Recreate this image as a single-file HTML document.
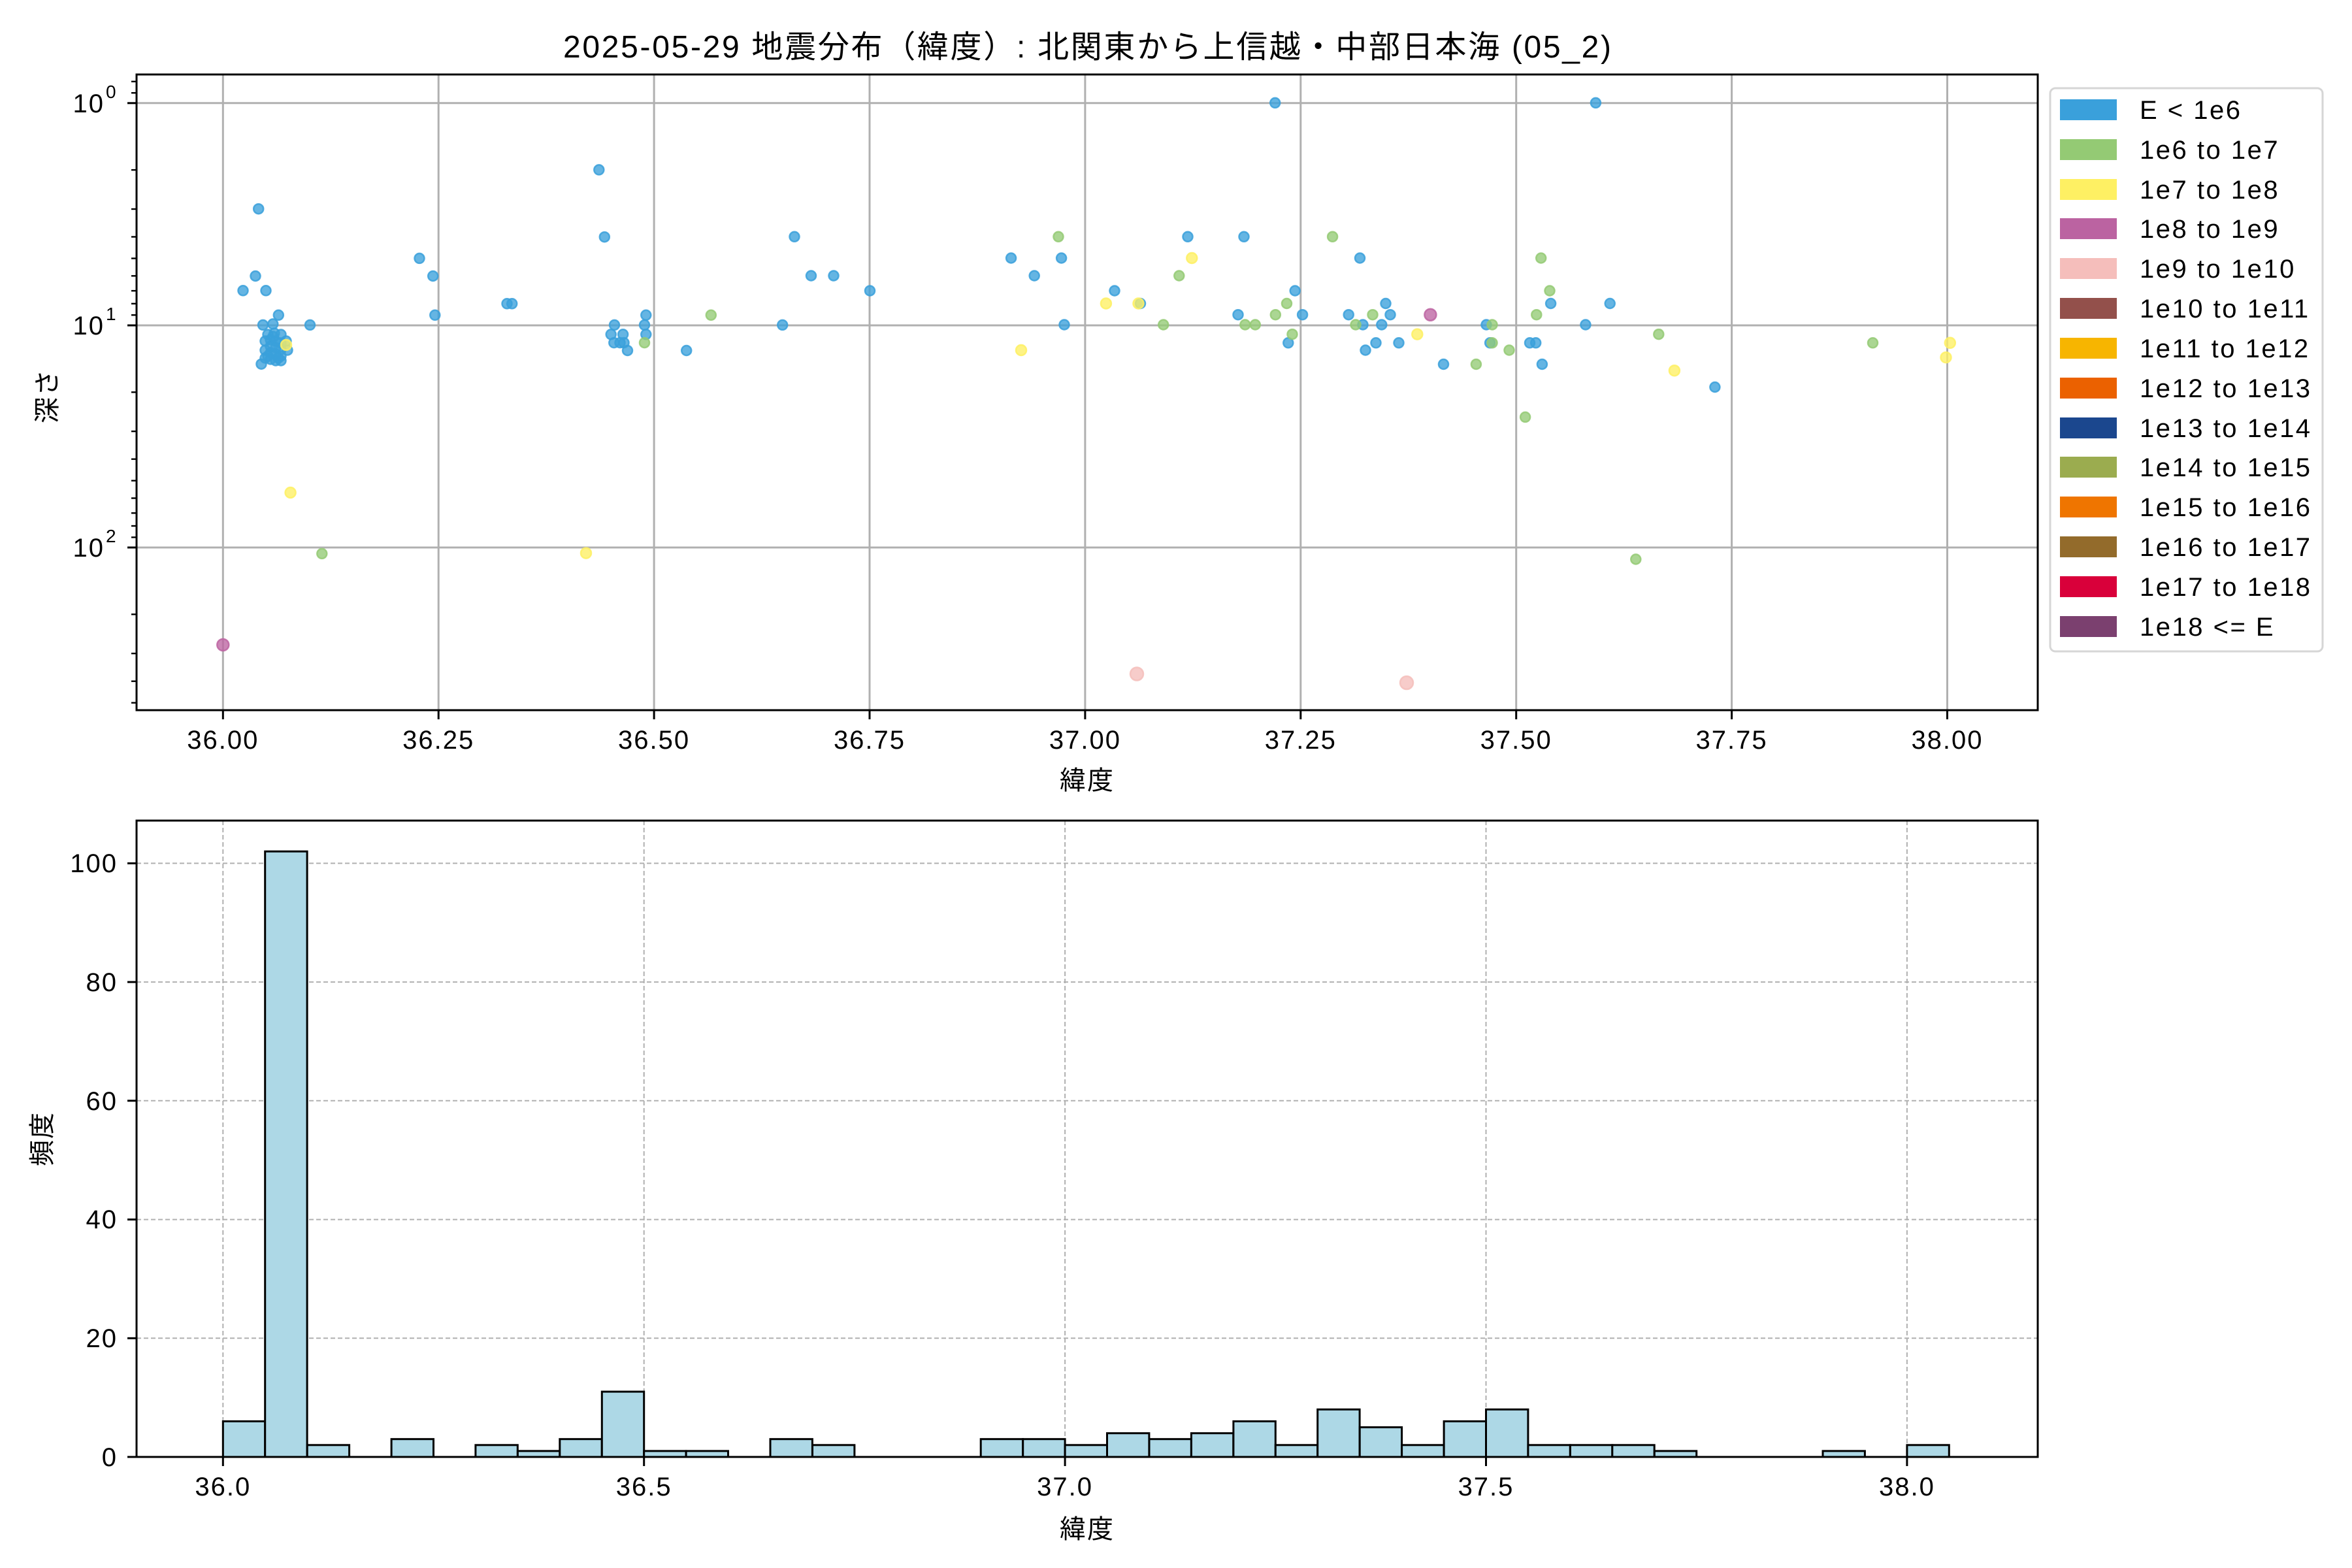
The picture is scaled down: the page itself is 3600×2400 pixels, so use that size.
<!DOCTYPE html>
<html><head><meta charset="utf-8"><style>
html,body{margin:0;padding:0;background:#fff;}
svg{display:block;}
text{font-family:"Liberation Sans","Noto Sans CJK JP",sans-serif;fill:#000;}
.tk{letter-spacing:2px;}
.lg{letter-spacing:2.5px;}
</style></head><body>
<svg width="3600" height="2400" viewBox="0 0 3600 2400" xmlns="http://www.w3.org/2000/svg">
<rect width="3600" height="2400" fill="#fff"/>
<text x="862" y="88" font-size="48" textLength="1604" lengthAdjust="spacing">2025-05-29 地震分布（緯度）: 北関東から上信越・中部日本海 (05_2)</text>

<!-- TOP AXES -->
<g stroke="#b0b0b0" stroke-width="3">
<line x1="341.3" y1="114" x2="341.3" y2="1087"/>
<line x1="671.2" y1="114" x2="671.2" y2="1087"/>
<line x1="1001.1" y1="114" x2="1001.1" y2="1087"/>
<line x1="1331" y1="114" x2="1331" y2="1087"/>
<line x1="1660.9" y1="114" x2="1660.9" y2="1087"/>
<line x1="1990.8" y1="114" x2="1990.8" y2="1087"/>
<line x1="2320.7" y1="114" x2="2320.7" y2="1087"/>
<line x1="2650.6" y1="114" x2="2650.6" y2="1087"/>
<line x1="2980.5" y1="114" x2="2980.5" y2="1087"/>
<line x1="209" y1="157.8" x2="3119" y2="157.8"/>
<line x1="209" y1="498" x2="3119" y2="498"/>
<line x1="209" y1="838" x2="3119" y2="838"/>
</g>

<g stroke-width="2.5" stroke-opacity="0.85" fill-opacity="0.78">
<g fill="#3aa0db" stroke="#3aa0db">
<circle cx="395.7" cy="319.7" r="7.5"/><circle cx="391" cy="422.5" r="7.5"/>
<circle cx="372" cy="444.8" r="7.5"/><circle cx="407" cy="444.8" r="7.5"/>
<circle cx="426.3" cy="482.3" r="7.5"/><circle cx="402.5" cy="497.4" r="7.5"/>
<circle cx="417.8" cy="495.9" r="7.5"/><circle cx="474.5" cy="497.4" r="7.5"/>
<circle cx="400" cy="557.2" r="7.5"/>
<circle cx="410" cy="512" r="7.5"/><circle cx="420" cy="510" r="7.5"/><circle cx="430" cy="512" r="7.5"/>
<circle cx="438" cy="522" r="7.5"/><circle cx="440" cy="536" r="7.5"/>
<circle cx="406" cy="522" r="7.5"/><circle cx="406" cy="536" r="7.5"/><circle cx="406" cy="548" r="7.5"/>
<circle cx="414" cy="520" r="7.5"/><circle cx="414" cy="530" r="7.5"/><circle cx="414" cy="540" r="7.5"/><circle cx="414" cy="550" r="7.5"/>
<circle cx="422" cy="522" r="7.5"/><circle cx="422" cy="532" r="7.5"/><circle cx="422" cy="542" r="7.5"/><circle cx="422" cy="552" r="7.5"/>
<circle cx="430" cy="525" r="7.5"/><circle cx="430" cy="535" r="7.5"/><circle cx="430" cy="545" r="7.5"/><circle cx="430" cy="552" r="7.5"/>
<circle cx="418" cy="515" r="7.5"/><circle cx="426" cy="548" r="7.5"/><circle cx="410" cy="545" r="7.5"/>
<circle cx="642" cy="395.4" r="7.5"/><circle cx="662.7" cy="422.5" r="7.5"/><circle cx="665.8" cy="482.3" r="7.5"/>
<circle cx="776" cy="464.8" r="7.5"/><circle cx="783.7" cy="464.8" r="7.5"/>
<circle cx="916.8" cy="259.9" r="7.5"/><circle cx="925.3" cy="362.7" r="7.5"/>
<circle cx="940.5" cy="497.4" r="7.5"/><circle cx="935.2" cy="511.8" r="7.5"/><circle cx="953.6" cy="511.8" r="7.5"/>
<circle cx="939.8" cy="524.6" r="7.5"/><circle cx="949" cy="524.6" r="7.5"/><circle cx="955" cy="524.6" r="7.5"/>
<circle cx="960.5" cy="536.5" r="7.5"/><circle cx="988.8" cy="482.3" r="7.5"/><circle cx="986.5" cy="497.4" r="7.5"/>
<circle cx="988.8" cy="511.8" r="7.5"/><circle cx="1050.7" cy="536.5" r="7.5"/><circle cx="1197.7" cy="497.4" r="7.5"/>
<circle cx="1216" cy="362.3" r="7.5"/><circle cx="1241.5" cy="422" r="7.5"/><circle cx="1276" cy="422" r="7.5"/>
<circle cx="1331.5" cy="445" r="7.5"/>
<circle cx="1951.7" cy="157.4" r="7.5"/><circle cx="1547.6" cy="395" r="7.5"/><circle cx="1624.6" cy="395" r="7.5"/>
<circle cx="1583.2" cy="422" r="7.5"/><circle cx="1706" cy="445" r="7.5"/><circle cx="1745.5" cy="464.5" r="7.5"/>
<circle cx="1629" cy="497" r="7.5"/><circle cx="1818" cy="362.3" r="7.5"/><circle cx="1904" cy="362.3" r="7.5"/>
<circle cx="1895" cy="481.7" r="7.5"/><circle cx="1982.2" cy="445" r="7.5"/><circle cx="1993.6" cy="481.7" r="7.5"/>
<circle cx="1971.8" cy="524.8" r="7.5"/><circle cx="2081.5" cy="395" r="7.5"/><circle cx="2064.2" cy="481.7" r="7.5"/>
<circle cx="2086" cy="497" r="7.5"/><circle cx="2121" cy="464.5" r="7.5"/><circle cx="2128" cy="481.7" r="7.5"/>
<circle cx="2114.8" cy="497" r="7.5"/><circle cx="2090" cy="536" r="7.5"/><circle cx="2106" cy="524.8" r="7.5"/>
<circle cx="2141" cy="524.8" r="7.5"/><circle cx="2209.5" cy="557.5" r="7.5"/><circle cx="2275" cy="497" r="7.5"/>
<circle cx="2280.6" cy="524.8" r="7.5"/><circle cx="2341.5" cy="524.8" r="7.5"/><circle cx="2350.7" cy="524.8" r="7.5"/>
<circle cx="2360.4" cy="557.5" r="7.5"/><circle cx="2373.6" cy="464.5" r="7.5"/>
<circle cx="2442.4" cy="157.4" r="7.5"/><circle cx="2464.2" cy="464.5" r="7.5"/><circle cx="2426.9" cy="497" r="7.5"/>
<circle cx="2624.9" cy="592.5" r="7.5"/>
</g>
<g fill="#94ca74" stroke="#94ca74">
<circle cx="492.8" cy="847.4" r="7.5"/><circle cx="986.5" cy="524.6" r="7.5"/><circle cx="1088.3" cy="482.3" r="7.5"/>
<circle cx="1620" cy="362.3" r="7.5"/><circle cx="1780.7" cy="497" r="7.5"/><circle cx="1804.8" cy="422" r="7.5"/>
<circle cx="1905.8" cy="497" r="7.5"/><circle cx="1921.3" cy="497" r="7.5"/><circle cx="1952.3" cy="481.7" r="7.5"/>
<circle cx="1969.5" cy="464.5" r="7.5"/><circle cx="1978" cy="511.6" r="7.5"/><circle cx="2039.6" cy="362.3" r="7.5"/>
<circle cx="2075" cy="497" r="7.5"/><circle cx="2101" cy="481.7" r="7.5"/><circle cx="2259.4" cy="557.5" r="7.5"/>
<circle cx="2284" cy="497" r="7.5"/><circle cx="2284" cy="524.8" r="7.5"/><circle cx="2310" cy="536" r="7.5"/>
<circle cx="2334.6" cy="638.4" r="7.5"/><circle cx="2351.8" cy="481.7" r="7.5"/><circle cx="2358.7" cy="395" r="7.5"/>
<circle cx="2372" cy="445" r="7.5"/><circle cx="2538.8" cy="511.6" r="7.5"/><circle cx="2503.8" cy="856" r="7.5"/>
<circle cx="2866.5" cy="524.8" r="7.5"/>
</g>
<g fill="#fef063" stroke="#fef063">
<circle cx="444.6" cy="754" r="8"/><circle cx="897" cy="846.6" r="8"/><circle cx="438" cy="528" r="8"/>
<circle cx="1692.9" cy="464.5" r="8"/><circle cx="1742.5" cy="464.5" r="8"/><circle cx="1563" cy="536" r="8"/>
<circle cx="1824.3" cy="395" r="8"/><circle cx="2169.3" cy="511.6" r="8"/><circle cx="2562.9" cy="567.2" r="8"/>
<circle cx="2984.8" cy="524.8" r="8"/><circle cx="2978.5" cy="547.1" r="8"/>
</g>
<g fill="#bd64a2" stroke="#bd64a2">
<circle cx="341.3" cy="987" r="9"/><circle cx="2189.4" cy="481.7" r="9"/>
</g>
<g fill="#f5bebb" stroke="#f5bebb">
<circle cx="1740" cy="1031.5" r="10"/><circle cx="2153" cy="1045" r="10"/>
</g>
</g>

<rect x="209" y="114" width="2910" height="973" fill="none" stroke="#000" stroke-width="3"/>
<g stroke="#000" stroke-width="3">
<line x1="341.3" y1="1087" x2="341.3" y2="1101"/><line x1="671.2" y1="1087" x2="671.2" y2="1101"/>
<line x1="1001.1" y1="1087" x2="1001.1" y2="1101"/><line x1="1331" y1="1087" x2="1331" y2="1101"/>
<line x1="1660.9" y1="1087" x2="1660.9" y2="1101"/><line x1="1990.8" y1="1087" x2="1990.8" y2="1101"/>
<line x1="2320.7" y1="1087" x2="2320.7" y2="1101"/><line x1="2650.6" y1="1087" x2="2650.6" y2="1101"/>
<line x1="2980.5" y1="1087" x2="2980.5" y2="1101"/>
<line x1="195" y1="157.8" x2="209" y2="157.8"/><line x1="195" y1="498" x2="209" y2="498"/><line x1="195" y1="838" x2="209" y2="838"/>
</g>
<g stroke="#000" stroke-width="2.4">
<line x1="201" y1="124.8" x2="209" y2="124.8"/><line x1="201" y1="142.2" x2="209" y2="142.2"/>
<line x1="201" y1="260.1" x2="209" y2="260.1"/><line x1="201" y1="320" x2="209" y2="320"/><line x1="201" y1="362.5" x2="209" y2="362.5"/>
<line x1="201" y1="395.5" x2="209" y2="395.5"/><line x1="201" y1="422.3" x2="209" y2="422.3"/><line x1="201" y1="445.1" x2="209" y2="445.1"/>
<line x1="201" y1="464.8" x2="209" y2="464.8"/><line x1="201" y1="482.2" x2="209" y2="482.2"/>
<line x1="201" y1="600.3" x2="209" y2="600.3"/><line x1="201" y1="660.2" x2="209" y2="660.2"/><line x1="201" y1="702.7" x2="209" y2="702.7"/>
<line x1="201" y1="735.7" x2="209" y2="735.7"/><line x1="201" y1="762.5" x2="209" y2="762.5"/><line x1="201" y1="785.3" x2="209" y2="785.3"/>
<line x1="201" y1="805" x2="209" y2="805"/><line x1="201" y1="822.4" x2="209" y2="822.4"/>
<line x1="201" y1="940.3" x2="209" y2="940.3"/><line x1="201" y1="1000.2" x2="209" y2="1000.2"/><line x1="201" y1="1042.7" x2="209" y2="1042.7"/>
<line x1="201" y1="1075.7" x2="209" y2="1075.7"/>
</g>
<g font-size="40" text-anchor="middle" class="tk">
<text x="341.3" y="1146">36.00</text><text x="671.2" y="1146">36.25</text><text x="1001.1" y="1146">36.50</text>
<text x="1331" y="1146">36.75</text><text x="1660.9" y="1146">37.00</text><text x="1990.8" y="1146">37.25</text>
<text x="2320.7" y="1146">37.50</text><text x="2650.6" y="1146">37.75</text><text x="2980.5" y="1146">38.00</text>
</g>
<g font-size="40" text-anchor="end" class="tk">
<text x="160" y="172">10</text><text x="160" y="512">10</text><text x="160" y="852">10</text>
</g>
<g font-size="28">
<text x="162" y="150">0</text><text x="162" y="490">1</text><text x="162" y="830">2</text>
</g>
<text x="1664" y="1208" font-size="40" text-anchor="middle" letter-spacing="2">緯度</text>
<text transform="translate(86,606) rotate(-90)" font-size="40" text-anchor="middle" letter-spacing="2">深さ</text>

<!-- LEGEND -->
<rect x="3138" y="135" width="417" height="862" rx="8" fill="#fff" stroke="#d6d6d6" stroke-width="3"/>
<g>
<rect x="3153" y="152" width="87" height="32" fill="#3aa0db"/>
<rect x="3153" y="213" width="87" height="32" fill="#94ca74"/>
<rect x="3153" y="274" width="87" height="32" fill="#fef063"/>
<rect x="3153" y="334" width="87" height="32" fill="#bb63a1"/>
<rect x="3153" y="395" width="87" height="32" fill="#f5bebb"/>
<rect x="3153" y="456" width="87" height="32" fill="#93504b"/>
<rect x="3153" y="517" width="87" height="32" fill="#f7b500"/>
<rect x="3153" y="578" width="87" height="32" fill="#eb6100"/>
<rect x="3153" y="639" width="87" height="32" fill="#1b478e"/>
<rect x="3153" y="699" width="87" height="32" fill="#9bac4f"/>
<rect x="3153" y="760" width="87" height="32" fill="#ef7500"/>
<rect x="3153" y="821" width="87" height="32" fill="#936b2b"/>
<rect x="3153" y="882" width="87" height="32" fill="#d9003a"/>
<rect x="3153" y="943" width="87" height="32" fill="#7b406f"/>
</g>
<g font-size="40" class="lg">
<text x="3275" y="182">E &lt; 1e6</text><text x="3275" y="243">1e6 to 1e7</text><text x="3275" y="304">1e7 to 1e8</text>
<text x="3275" y="364">1e8 to 1e9</text><text x="3275" y="425">1e9 to 1e10</text><text x="3275" y="486">1e10 to 1e11</text>
<text x="3275" y="547">1e11 to 1e12</text><text x="3275" y="608">1e12 to 1e13</text><text x="3275" y="669">1e13 to 1e14</text>
<text x="3275" y="729">1e14 to 1e15</text><text x="3275" y="790">1e15 to 1e16</text><text x="3275" y="851">1e16 to 1e17</text>
<text x="3275" y="912">1e17 to 1e18</text><text x="3275" y="973">1e18 &lt;= E</text>
</g>

<!-- BOTTOM AXES -->
<g stroke="#b0b0b0" stroke-width="2" stroke-dasharray="7,4">
<line x1="341.3" y1="1256" x2="341.3" y2="2230"/><line x1="985.7" y1="1256" x2="985.7" y2="2230"/>
<line x1="1630.1" y1="1256" x2="1630.1" y2="2230"/><line x1="2274.5" y1="1256" x2="2274.5" y2="2230"/>
<line x1="2918.9" y1="1256" x2="2918.9" y2="2230"/>
<line x1="209" y1="2230" x2="3119" y2="2230"/><line x1="209" y1="2048.3" x2="3119" y2="2048.3"/>
<line x1="209" y1="1866.6" x2="3119" y2="1866.6"/><line x1="209" y1="1684.8" x2="3119" y2="1684.8"/>
<line x1="209" y1="1503.1" x2="3119" y2="1503.1"/><line x1="209" y1="1321.4" x2="3119" y2="1321.4"/>
</g>
<g fill="#add8e6" stroke="#000" stroke-width="3">
<rect x="341.3" y="2175.5" width="64.4" height="54.5"/>
<rect x="405.7" y="1303.2" width="64.4" height="926.8"/>
<rect x="470.2" y="2211.8" width="64.4" height="18.2"/>
<rect x="599.1" y="2202.7" width="64.4" height="27.3"/>
<rect x="727.9" y="2211.8" width="64.4" height="18.2"/>
<rect x="792.4" y="2220.9" width="64.4" height="9.1"/>
<rect x="856.8" y="2202.7" width="64.4" height="27.3"/>
<rect x="921.3" y="2130.1" width="64.4" height="99.9"/>
<rect x="985.7" y="2220.9" width="64.4" height="9.1"/>
<rect x="1050.1" y="2220.9" width="64.4" height="9.1"/>
<rect x="1179" y="2202.7" width="64.4" height="27.3"/>
<rect x="1243.5" y="2211.8" width="64.4" height="18.2"/>
<rect x="1501.2" y="2202.7" width="64.4" height="27.3"/>
<rect x="1565.7" y="2202.7" width="64.4" height="27.3"/>
<rect x="1630.1" y="2211.8" width="64.4" height="18.2"/>
<rect x="1694.5" y="2193.7" width="64.4" height="36.3"/>
<rect x="1759" y="2202.7" width="64.4" height="27.3"/>
<rect x="1823.4" y="2193.7" width="64.4" height="36.3"/>
<rect x="1887.9" y="2175.5" width="64.4" height="54.5"/>
<rect x="1952.3" y="2211.8" width="64.4" height="18.2"/>
<rect x="2016.7" y="2157.3" width="64.4" height="72.7"/>
<rect x="2081.2" y="2184.6" width="64.4" height="45.4"/>
<rect x="2145.6" y="2211.8" width="64.4" height="18.2"/>
<rect x="2210.1" y="2175.5" width="64.4" height="54.5"/>
<rect x="2274.5" y="2157.3" width="64.4" height="72.7"/>
<rect x="2338.9" y="2211.8" width="64.4" height="18.2"/>
<rect x="2403.4" y="2211.8" width="64.4" height="18.2"/>
<rect x="2467.8" y="2211.8" width="64.4" height="18.2"/>
<rect x="2532.3" y="2220.9" width="64.4" height="9.1"/>
<rect x="2790" y="2220.9" width="64.4" height="9.1"/>
<rect x="2918.9" y="2211.8" width="64.4" height="18.2"/>
</g>
<rect x="209" y="1256" width="2910" height="974" fill="none" stroke="#000" stroke-width="3"/>
<g stroke="#000" stroke-width="3">
<line x1="341.3" y1="2230" x2="341.3" y2="2244"/><line x1="985.7" y1="2230" x2="985.7" y2="2244"/>
<line x1="1630.1" y1="2230" x2="1630.1" y2="2244"/><line x1="2274.5" y1="2230" x2="2274.5" y2="2244"/>
<line x1="2918.9" y1="2230" x2="2918.9" y2="2244"/>
<line x1="195" y1="2230" x2="209" y2="2230"/><line x1="195" y1="2048.3" x2="209" y2="2048.3"/>
<line x1="195" y1="1866.6" x2="209" y2="1866.6"/><line x1="195" y1="1684.8" x2="209" y2="1684.8"/>
<line x1="195" y1="1503.1" x2="209" y2="1503.1"/><line x1="195" y1="1321.4" x2="209" y2="1321.4"/>
</g>
<g font-size="40" text-anchor="middle" class="tk">
<text x="341.3" y="2289">36.0</text><text x="985.7" y="2289">36.5</text><text x="1630.1" y="2289">37.0</text>
<text x="2274.5" y="2289">37.5</text><text x="2918.9" y="2289">38.0</text>
</g>
<g font-size="40" text-anchor="end" class="tk">
<text x="180" y="2244">0</text><text x="180" y="2062">20</text><text x="180" y="1880">40</text>
<text x="180" y="1699">60</text><text x="180" y="1517">80</text><text x="180" y="1335">100</text>
</g>
<text x="1664" y="2354" font-size="40" text-anchor="middle" letter-spacing="2">緯度</text>
<text transform="translate(78,1743) rotate(-90)" font-size="40" text-anchor="middle" letter-spacing="2">頻度</text>
</svg>
</body></html>
